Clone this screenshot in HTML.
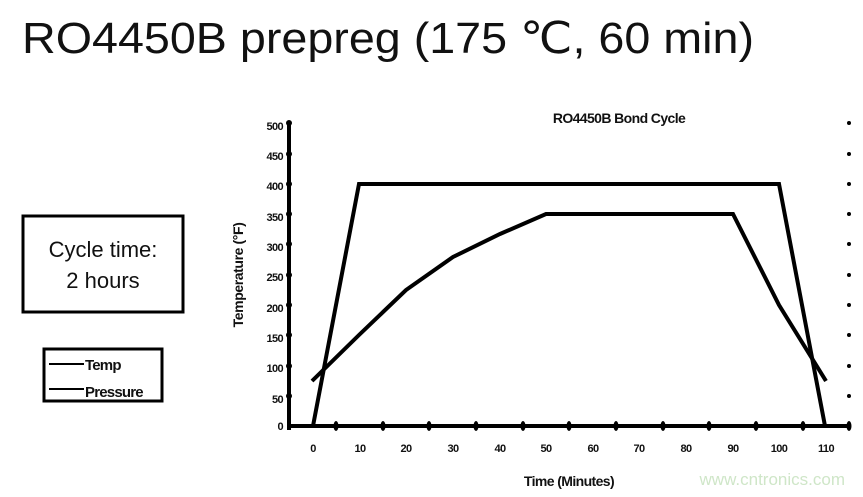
<!DOCTYPE html>
<html><head><meta charset="utf-8"><style>
html,body{margin:0;padding:0;background:#fff;width:863px;height:497px;overflow:hidden}
</style></head><body>
<svg width="863" height="497" xmlns="http://www.w3.org/2000/svg" font-family="Liberation Sans, DejaVu Sans, sans-serif">
<text x="22" y="53" font-size="44" fill="#111" textLength="732" lengthAdjust="spacingAndGlyphs">RO4450B prepreg (175 ℃, 60 min)</text>
<rect x="23" y="216" width="160" height="96" fill="none" stroke="#000" stroke-width="3"/>
<text x="103" y="257" font-size="22" text-anchor="middle" fill="#111">Cycle time:</text>
<text x="103" y="288" font-size="22" text-anchor="middle" fill="#111">2 hours</text>
<rect x="44" y="349" width="118" height="52" fill="none" stroke="#000" stroke-width="3"/>
<line x1="49" y1="364" x2="84" y2="364" stroke="#000" stroke-width="2"/>
<line x1="49" y1="389" x2="84" y2="389" stroke="#000" stroke-width="2"/>
<text x="85" y="370" font-size="15" font-weight="bold" fill="#111" letter-spacing="-0.8">Temp</text>
<text x="85" y="397" font-size="15" font-weight="bold" fill="#111" letter-spacing="-0.8">Pressure</text>
<text x="619" y="123" font-size="14" font-weight="bold" text-anchor="middle" fill="#111" letter-spacing="-0.6">RO4450B Bond Cycle</text>
<g stroke="#000" stroke-width="4" fill="none">
<line x1="289" y1="123" x2="289" y2="430"/>
<line x1="287" y1="426" x2="851" y2="426"/>
</g>
<g font-size="11" font-weight="bold" text-anchor="end" fill="#111" letter-spacing="-0.6">
<text x="283" y="130">500</text><text x="283" y="160">450</text><text x="283" y="190">400</text><text x="283" y="221">350</text><text x="283" y="251">300</text><text x="283" y="281">250</text><text x="283" y="312">200</text><text x="283" y="342">150</text><text x="283" y="372">100</text><text x="283" y="403">50</text><text x="283" y="430">0</text>
</g>
<g fill="#000">
<circle cx="289" cy="123" r="3"/><circle cx="289" cy="154" r="3"/><circle cx="289" cy="184" r="3"/><circle cx="289" cy="214" r="3"/><circle cx="289" cy="244" r="3"/><circle cx="289" cy="275" r="3"/><circle cx="289" cy="305" r="3"/><circle cx="289" cy="335" r="3"/><circle cx="289" cy="366" r="3"/><circle cx="289" cy="396" r="3"/>
<circle cx="849" cy="123" r="2"/><circle cx="849" cy="154" r="2"/><circle cx="849" cy="184" r="2"/><circle cx="849" cy="214" r="2"/><circle cx="849" cy="244" r="2"/><circle cx="849" cy="275" r="2"/><circle cx="849" cy="305" r="2"/><circle cx="849" cy="335" r="2"/><circle cx="849" cy="366" r="2"/><circle cx="849" cy="396" r="2"/>
<ellipse cx="336" cy="426" rx="2.5" ry="5"/><ellipse cx="383" cy="426" rx="2.5" ry="5"/><ellipse cx="429" cy="426" rx="2.5" ry="5"/><ellipse cx="476" cy="426" rx="2.5" ry="5"/><ellipse cx="523" cy="426" rx="2.5" ry="5"/><ellipse cx="569" cy="426" rx="2.5" ry="5"/><ellipse cx="616" cy="426" rx="2.5" ry="5"/><ellipse cx="663" cy="426" rx="2.5" ry="5"/><ellipse cx="709" cy="426" rx="2.5" ry="5"/><ellipse cx="756" cy="426" rx="2.5" ry="5"/><ellipse cx="803" cy="426" rx="2.5" ry="5"/><ellipse cx="849" cy="426" rx="2.5" ry="5"/>
</g>
<g font-size="11" font-weight="bold" text-anchor="middle" fill="#111" letter-spacing="-0.6">
<text x="313" y="452">0</text><text x="360" y="452">10</text><text x="406" y="452">20</text><text x="453" y="452">30</text><text x="500" y="452">40</text><text x="546" y="452">50</text><text x="593" y="452">60</text><text x="639" y="452">70</text><text x="686" y="452">80</text><text x="733" y="452">90</text><text x="779" y="452">100</text><text x="826" y="452">110</text>
</g>
<text x="569" y="486" font-size="14" font-weight="bold" text-anchor="middle" fill="#111" letter-spacing="-0.6">Time (Minutes)</text>
<text transform="translate(243,275) rotate(-90)" font-size="14" font-weight="bold" text-anchor="middle" fill="#111" letter-spacing="-0.4">Temperature (°F)</text>
<g stroke="#000" stroke-width="4" fill="none" stroke-linejoin="miter">
<polyline points="313,426 359,184 779,184 825,426"/>
<polyline points="312,381 359,335 406,290 453,257 500,234 546,214 733,214 779,305 826,381"/>
</g>
<text x="845" y="485" font-size="17" text-anchor="end" fill="#cfe6c8">www.cntronics.com</text>
</svg>
</body></html>
